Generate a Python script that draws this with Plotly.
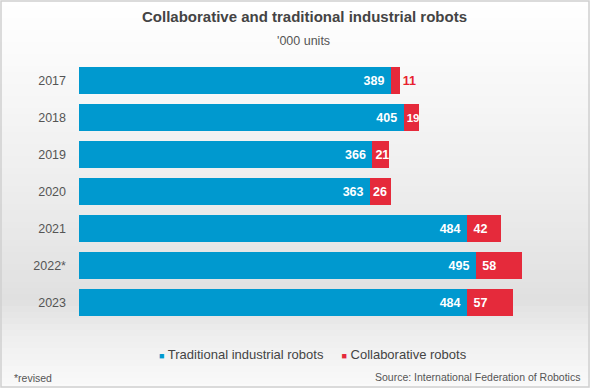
import plotly.graph_objects as go

years = ["2017", "2018", "2019", "2020", "2021", "2022*", "2023"]
traditional = [389, 405, 366, 363, 484, 495, 484]
collaborative = [11, 19, 21, 26, 42, 58, 57]
series_names = ["Traditional industrial robots", "Collaborative robots"]

W, H = 590, 388
L, R, T, B = 79, 30, 62, 67
PW, PH = W - L - R, H - T - B

def px_x(x):
    return (x - L) / PW

def px_y(y):
    return (H - B - y) / PH

BLUE = "#0099CF"
RED = "#E52A3B"
FONT = "Liberation Sans, Arial, sans-serif"
NB = "\u00a0"

fig = go.Figure()
fig.add_trace(go.Bar(
    y=years, x=traditional, orientation="h", name=series_names[0],
    marker=dict(color=BLUE, line=dict(width=0)),
    text=[f"{v}{NB}" for v in traditional], textposition="inside", insidetextanchor="end",
    textangle=0,
    textfont=dict(color="white", size=12.5, family=FONT, weight="bold"),
    constraintext="none", cliponaxis=False, showlegend=False,
))
coll_pos = ["outside"] + ["inside"] * (len(collaborative) - 1)
coll_col = ["#E8202F"] + ["white"] * (len(collaborative) - 1)
coll_txt = [f"{NB}{v}" if v >= 30 else f"{v}" for v in collaborative]
coll_size = [11.5 if v < 20 and i > 0 else 12.5 for i, v in enumerate(collaborative)]
fig.add_trace(go.Bar(
    y=years, x=collaborative, orientation="h", name=series_names[1],
    marker=dict(color=RED, line=dict(width=0)),
    text=coll_txt, textposition=coll_pos, insidetextanchor="start",
    textangle=0,
    textfont=dict(color=coll_col, size=coll_size, family=FONT, weight="bold"),
    constraintext="none", cliponaxis=False, showlegend=False,
))

# background gradient (decoration)
stops = [(0, (255, 255, 255)), (60, (250, 250, 250)), (200, (236, 236, 236)),
         (300, (224, 224, 224)), (335, (238, 238, 238)), (388, (250, 250, 250))]
def col_at(y):
    for (y0, c0), (y1, c1) in zip(stops, stops[1:]):
        if y0 <= y <= y1:
            t = (y - y0) / (y1 - y0)
            return "rgb(%d,%d,%d)" % tuple(round(a + (b - a) * t) for a, b in zip(c0, c1))
    return "rgb(250,250,250)"

shapes = []
step = 6
for y in range(0, H, step):
    shapes.append(dict(type="rect", xref="paper", yref="paper", layer="below",
                       x0=px_x(0), x1=px_x(W), y0=px_y(y + step + 0.5), y1=px_y(y),
                       fillcolor=col_at(y + step / 2), line=dict(width=0)))
shapes.append(dict(type="rect", xref="paper", yref="paper", layer="above",
                   x0=px_x(1), x1=px_x(W - 1), y0=px_y(H - 1), y1=px_y(1),
                   fillcolor="rgba(0,0,0,0)", line=dict(color="#d0d0d0", width=1.5)))

legend_text = (
    '<span style="color:%s;font-size:9px">■</span> %s'
    '&nbsp;&nbsp;&nbsp;&nbsp;&nbsp;'
    '<span style="color:%s;font-size:9px">■</span> %s'
) % (BLUE, series_names[0], RED, series_names[1])

annotations = [
    dict(text="<b>Collaborative and traditional industrial robots</b>", x=px_x(304), y=px_y(17),
         xref="paper", yref="paper", showarrow=False, xanchor="center", yanchor="middle",
         font=dict(size=15, color="#444444", family=FONT)),
    dict(text="'000 units", x=px_x(303), y=px_y(41),
         xref="paper", yref="paper", showarrow=False, xanchor="center", yanchor="middle",
         font=dict(size=12.5, color="#555555", family=FONT)),
    dict(text=legend_text, x=px_x(313), y=px_y(354),
         xref="paper", yref="paper", showarrow=False, xanchor="center", yanchor="middle",
         font=dict(size=13, color="#444444", family=FONT)),
    dict(text="*revised", x=px_x(12), y=px_y(378),
         xref="paper", yref="paper", showarrow=False, xanchor="left", yanchor="middle",
         font=dict(size=10.5, color="#555555", family=FONT)),
    dict(text="Source: International Federation of Robotics", x=px_x(582), y=px_y(377),
         xref="paper", yref="paper", showarrow=False, xanchor="right", yanchor="middle",
         font=dict(size=10.5, color="#555555", family=FONT)),
]

fig.update_layout(
    width=W, height=H, margin=dict(l=L, r=R, t=T, b=B),
    barmode="stack", bargap=0.27,
    paper_bgcolor="white", plot_bgcolor="rgba(0,0,0,0)",
    font=dict(family=FONT, color="#555555"),
    showlegend=False,
    xaxis=dict(range=[0, 600], visible=False, fixedrange=True),
    yaxis=dict(categoryorder="array", categoryarray=years, autorange="reversed",
               showgrid=False, zeroline=False, showline=False, ticks="",
               tickfont=dict(size=12.5, color="#555555", family=FONT),
               ticklabelstandoff=12, fixedrange=True),
    shapes=shapes, annotations=annotations,
)

fig.write_html("out.html", config={"displayModeBar": False},
               post_script="document.body.style.margin='0';document.body.style.overflow='hidden';")
